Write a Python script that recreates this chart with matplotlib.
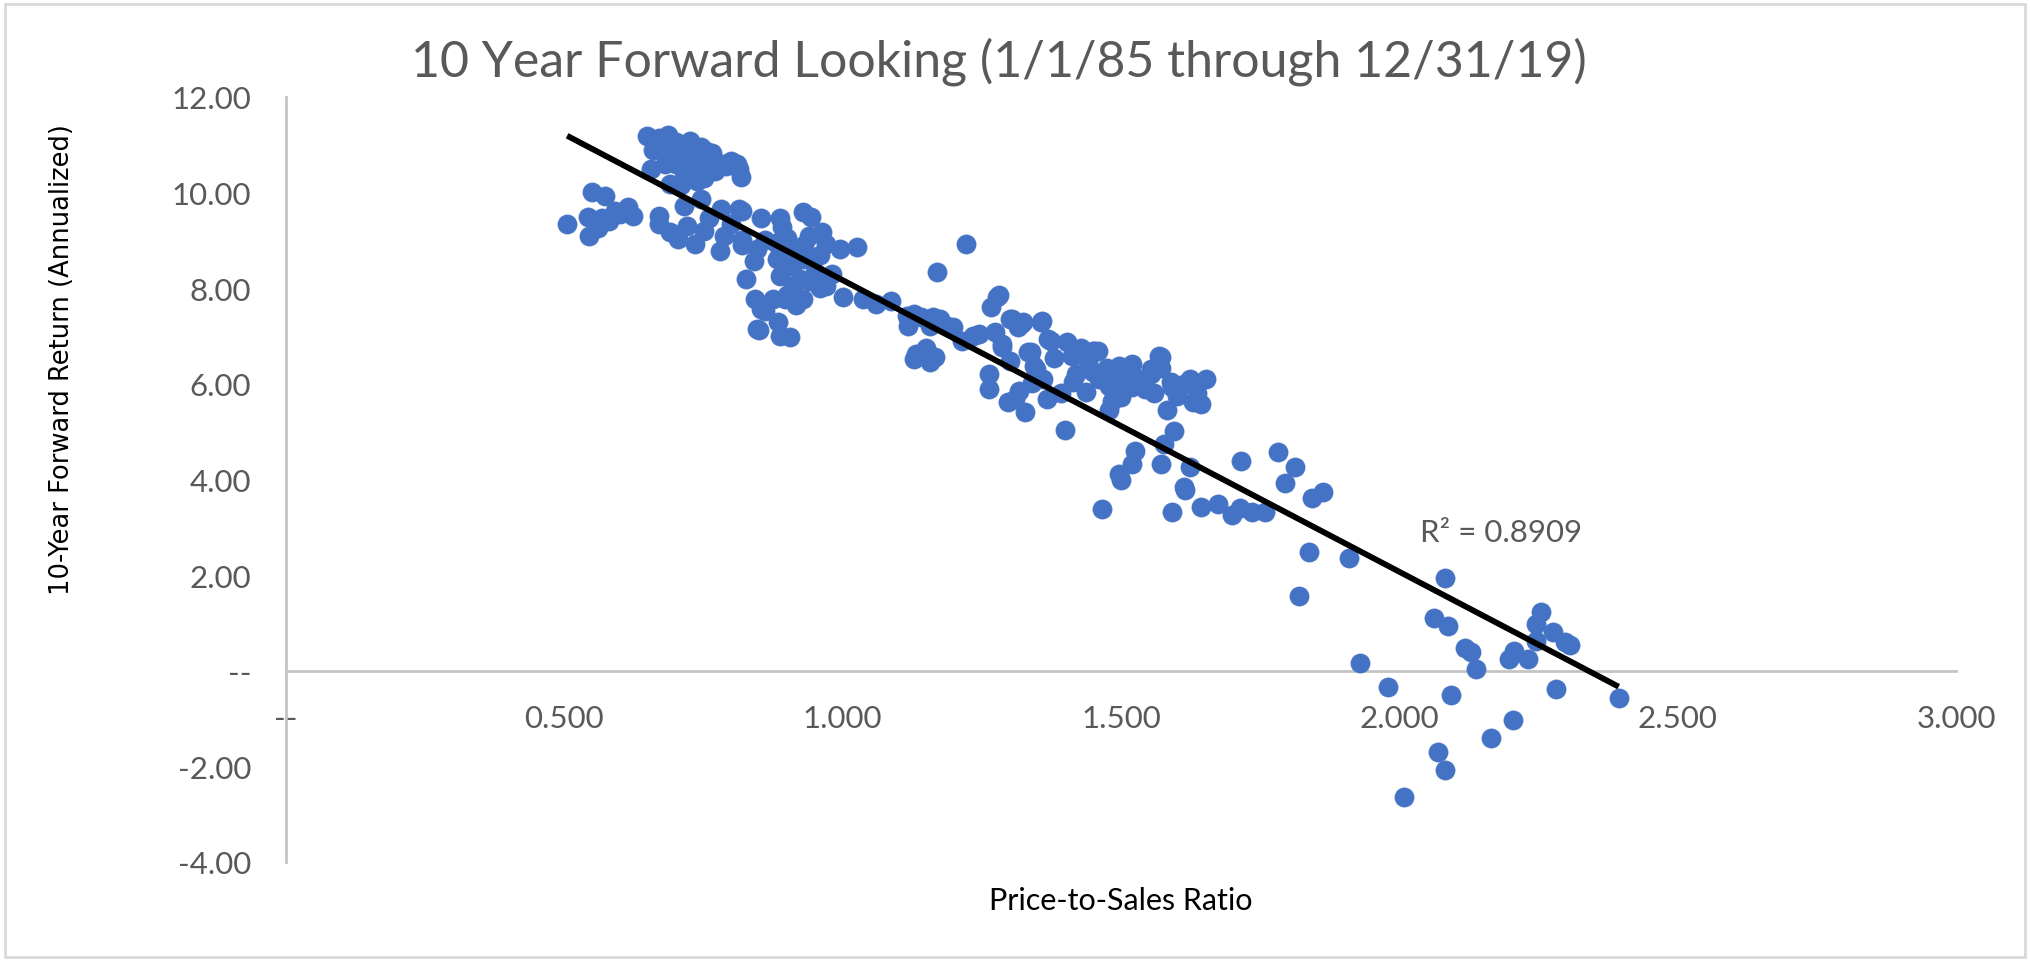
import numpy as np
import matplotlib.pyplot as plt
from matplotlib.patches import Rectangle
from matplotlib.ticker import FuncFormatter

# Price-to-sales ratio vs. 10-year forward annualized return
# (x, y) pairs grouped by region of the cloud
cluster_low = [
    (0.505, 9.35), (0.55, 10.02), (0.545, 9.10), (0.543, 9.50), (0.573, 9.92),
    (0.580, 9.41), (0.591, 9.62), (0.615, 9.70), (0.623, 9.52), (0.568, 9.46),
    (0.56, 9.25), (0.60, 9.55),
]
cluster_top = [
    (0.649, 11.19), (0.687, 11.21), (0.725, 11.07), (0.746, 10.96), (0.766, 10.82),
    (0.80, 10.67), (0.814, 10.5), (0.817, 10.33), (0.656, 10.5), (0.69, 10.19),
    (0.738, 10.25), (0.776, 10.54), (0.715, 10.44), (0.704, 10.77), (0.731, 10.71),
    (0.67, 11.15), (0.70, 11.05), (0.71, 10.9), (0.72, 11.0), (0.755, 10.88),
    (0.785, 10.6), (0.79, 10.55), (0.81, 10.6), (0.66, 10.9), (0.68, 10.85),
    (0.695, 10.95), (0.72, 10.75), (0.74, 10.65), (0.745, 10.5), (0.76, 10.6),
    (0.68, 10.6), (0.71, 10.15), (0.75, 10.3), (0.77, 10.45), (0.73, 10.4),
    (0.70, 10.6),
]
cluster_mid_left = [
    (0.67, 9.52), (0.67, 9.35), (0.69, 9.18), (0.704, 9.04), (0.735, 8.93),
    (0.715, 9.73), (0.746, 9.87), (0.76, 9.46), (0.78, 8.77), (0.787, 9.10),
    (0.814, 9.66), (0.82, 8.9), (0.781, 9.66), (0.819, 9.62), (0.853, 9.46),
    (0.887, 9.46), (0.929, 9.6), (0.943, 9.5), (0.891, 9.29), (0.819, 9.0),
    (0.94, 9.1), (0.963, 9.18), (0.97, 8.93), (0.995, 8.83), (1.026, 8.87),
    (0.846, 8.83), (0.882, 8.62), (0.909, 8.47), (0.929, 8.62), (0.887, 8.26),
    (0.95, 8.35), (0.97, 8.05), (0.923, 8.2), (0.826, 8.2), (0.84, 8.56),
    (0.842, 7.78), (0.90, 7.85), (0.875, 7.78), (0.929, 7.78), (0.916, 7.64),
    (0.853, 7.57), (0.846, 7.15), (0.884, 7.30), (0.887, 7.0), (0.905, 6.98),
    (0.861, 7.53), (0.896, 7.78), (0.92, 7.78), (0.85, 7.12), (0.72, 9.3),
    (0.75, 9.2), (0.80, 9.35), (0.86, 9.0), (0.90, 9.05), (0.93, 8.9),
    (0.96, 8.7), (0.91, 8.8), (0.88, 8.95), (0.94, 8.15), (0.98, 8.3),
    (0.96, 8.0), (0.91, 8.05),
]
cluster_mid = [
    (1.0, 7.82), (1.036, 7.78), (1.06, 7.68), (1.087, 7.74), (1.116, 7.43),
    (1.128, 7.47), (1.162, 7.40), (1.157, 7.22), (1.187, 7.22), (1.214, 6.9),
    (1.245, 7.05), (1.274, 7.09), (1.286, 6.84), (1.221, 8.93), (1.169, 8.35),
    (1.266, 7.61), (1.277, 7.82), (1.30, 7.36), (1.324, 7.30), (1.358, 7.32),
    (1.315, 7.2), (1.338, 6.67), (1.369, 6.94), (1.403, 6.88), (1.451, 6.69),
    (1.568, 6.59), (1.132, 6.63), (1.15, 6.74), (1.166, 6.57), (1.128, 6.53),
    (1.157, 6.46), (1.263, 6.21), (1.263, 5.9), (1.297, 5.63), (1.234, 7.01),
    (1.286, 6.78), (1.304, 7.36), (1.28, 7.85), (1.175, 7.36), (1.198, 7.2),
    (1.14, 7.40), (1.117, 7.22),
]
cluster_mid_right = [
    (1.356, 7.30), (1.32, 7.26), (1.374, 6.9), (1.333, 6.67), (1.45, 6.69),
    (1.496, 6.38), (1.519, 6.42), (1.554, 6.32), (1.572, 6.57), (1.59, 6.04),
    (1.624, 6.11), (1.653, 6.11), (1.63, 5.63), (1.583, 5.45), (1.344, 6.38),
    (1.367, 5.69), (1.414, 6.04), (1.437, 5.83), (1.478, 5.96), (1.483, 5.65),
    (1.45, 6.25), (1.543, 5.9), (1.31, 5.69), (1.327, 5.42), (1.30, 6.48),
    (1.316, 5.85), (1.34, 6.02), (1.347, 6.31), (1.393, 5.8), (1.412, 6.59),
    (1.428, 6.75), (1.40, 5.04), (1.458, 6.69), (1.474, 6.34), (1.50, 5.72),
    (1.479, 5.45), (1.519, 5.93), (1.553, 6.21), (1.572, 6.34), (1.591, 5.93),
    (1.614, 5.99), (1.637, 5.8), (1.644, 5.58), (1.42, 6.2), (1.46, 6.1),
    (1.49, 6.0), (1.53, 6.1), (1.36, 6.1), (1.38, 6.55), (1.44, 6.45),
    (1.51, 6.2), (1.56, 5.8), (1.60, 5.75),
]
cluster_high = [
    (1.525, 4.6), (1.595, 5.02), (1.577, 4.75), (1.715, 4.39),
    (1.782, 4.58), (1.812, 4.27), (1.519, 4.33), (1.572, 4.33), (1.624, 4.27),
    (1.496, 4.12), (1.5, 4.0), (1.466, 3.39), (1.592, 3.33), (1.615, 3.79),
    (1.644, 3.43), (1.674, 3.49), (1.699, 3.26), (1.713, 3.41), (1.735, 3.31),
    (1.758, 3.33), (1.795, 3.93), (1.843, 3.62), (1.863, 3.74), (1.613, 3.85),
    (1.837, 2.49), (1.909, 2.36), (1.82, 1.57),
]
cluster_top_ratio = [
    (1.93, 0.16), (1.98, -0.33), (2.008, -2.64), (2.062, 1.11), (2.087, 0.93),
    (2.082, 1.95), (2.093, -0.51), (2.07, -1.70), (2.082, -2.07), (2.118, 0.48),
    (2.128, 0.39), (2.138, 0.03), (2.164, -1.41), (2.197, 0.25), (2.206, 0.42),
    (2.204, -1.03), (2.231, 0.25), (2.245, 0.98), (2.255, 1.23), (2.245, 0.63),
    (2.276, 0.81), (2.297, 0.6), (2.306, 0.53), (2.281, -0.38), (2.394, -0.57),
]

# linear trendline as drawn by Excel
trend_slope = -6.10
trend_intercept = 14.27
r_squared = 0.8909

x_ticks = [0, 0.5, 1.0, 1.5, 2.0, 2.5, 3.0]
y_ticks = [-4, -2, 0, 2, 4, 6, 8, 10, 12]

points = np.array(cluster_low + cluster_top + cluster_mid_left + cluster_mid
                  + cluster_mid_right + cluster_high + cluster_top_ratio)
ps_ratio = points[:, 0]
fwd_return = points[:, 1]

GREY = '#595959'
W, H = 2030, 962

fig = plt.figure(figsize=(W / 100, H / 100), dpi=100)
ax = fig.add_axes([286 / W, 1 - 863 / H, (1956 - 286) / W, (863 - 98) / H])

ax.scatter(ps_ratio, fwd_return, s=190, color='#4472C4',
           edgecolors='#4472C4', linewidths=0.5, zorder=3)

tx = np.array([ps_ratio.min(), ps_ratio.max()])
ax.plot(tx, trend_slope * tx + trend_intercept, color='black', lw=4.2,
        solid_capstyle='butt', zorder=4)

ax.text(2.038, 2.90, f'R² = {r_squared:.4f}', fontsize=22.5, color=GREY,
        family='Lato', ha='left', va='center')

ax.set_xlim(0, 3)
ax.set_ylim(-4, 12)
ax.set_xticks(x_ticks)
ax.set_yticks(y_ticks)
ax.xaxis.set_major_formatter(FuncFormatter(lambda v, p: '--' if v == 0 else f'{v:.3f}'))
ax.yaxis.set_major_formatter(FuncFormatter(lambda v, p: '--' if v == 0 else f'{v:.2f}'))

for side in ['top', 'right']:
    ax.spines[side].set_visible(False)
ax.spines['bottom'].set_position(('data', 0))
for side in ['left', 'bottom']:
    ax.spines[side].set_color('#C4C4C4')
    ax.spines[side].set_linewidth(2.0)
    ax.spines[side].set_zorder(1)

ax.tick_params(axis='x', length=0, pad=24, labelsize=22.5, labelcolor=GREY)
ax.tick_params(axis='y', length=0, pad=25, labelsize=22.5, labelcolor=GREY)
for lab in ax.get_xticklabels() + ax.get_yticklabels():
    lab.set_family('Lato')

fig.text(999 / W, 1 - 77 / H, '10 Year Forward Looking (1/1/85 through 12/31/19)',
         fontsize=36, color=GREY, family='Lato', ha='center', va='baseline')
fig.text(1121 / W, 1 - 910 / H, 'Price-to-Sales Ratio', fontsize=22,
         color='black', family='Lato', ha='center', va='baseline')
fig.text(62 / W, 1 - 360 / H, '10-Year Forward Return (Annualized)', fontsize=18.5,
         color='black', family='DejaVu Sans', rotation=90, ha='center', va='center')

# chart area border
fig.patches.append(Rectangle((5 / W, 4 / H), (W - 10) / W, (H - 9) / H,
                             transform=fig.transFigure, fill=False,
                             edgecolor='#D9D9D9', lw=2))

fig.savefig('out.png', dpi=100)
